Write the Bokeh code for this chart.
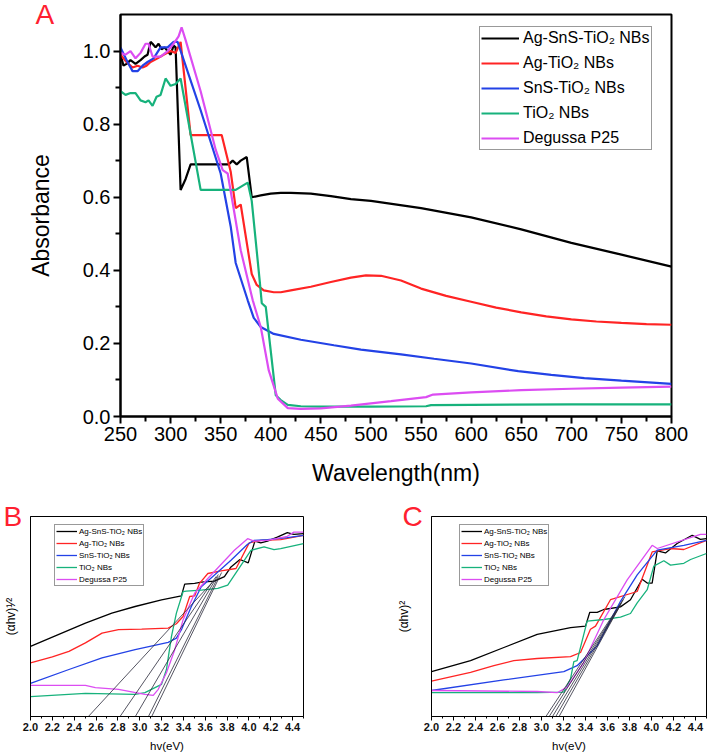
from bokeh.plotting import figure
from bokeh.models import Range1d, FixedTicker, Legend, LegendItem, NumeralTickFormatter
from bokeh.layouts import column, row
from bokeh.embed import file_html
from bokeh.resources import INLINE

FONT = "Liberation Sans"
SERIES = ["Ag-SnS-TiO₂ NBs", "Ag-TiO₂ NBs", "SnS-TiO₂ NBs", "TiO₂ NBs", "Degussa P25"]
COLORS = ["#000000", "#FF2424", "#2342E6", "#17B27C", "#DC4DF2"]
LETTER_COLOR = "#FF2030"
PANEL_LETTERS = ["A", "B", "C"]

# ---------------- Panel A : absorbance vs wavelength ----------------
a_black_x = [250, 253, 256, 260, 265, 270, 274, 277, 280, 282, 285, 288, 291, 294, 297, 300, 303, 305, 310, 315,
             320, 330, 340, 350, 358, 362, 366, 370, 376, 381, 390, 400, 410, 420, 440, 460, 480, 500, 550, 600,
             650, 700, 750, 800]
a_black_y = [0.99, 0.96, 0.965, 0.975, 0.965, 0.975, 0.985, 0.99, 1.025, 1.02, 1.01, 1.02, 1.005, 1.01, 1.0, 0.99,
             1.015, 1.01, 0.62, 0.65, 0.69, 0.69, 0.69, 0.69, 0.69, 0.70, 0.69, 0.70, 0.71, 0.60, 0.605, 0.61,
             0.612, 0.612, 0.61, 0.603, 0.595, 0.59, 0.57, 0.545, 0.512, 0.475, 0.443, 0.41]
a_red_x = [250, 256, 262, 267, 272, 276, 280, 287, 293, 300, 305, 310, 320, 330, 340, 351, 360, 365, 370, 381,
           386, 393, 403, 410, 420, 440, 460, 480, 495, 510, 530, 550, 575, 600, 625, 650, 675, 700, 725, 750,
           775, 800]
a_red_y = [0.99, 0.97, 0.955, 0.96, 0.955, 0.96, 0.97, 0.98, 0.99, 1.0, 0.995, 1.025, 0.77, 0.77, 0.77, 0.77,
           0.67, 0.57, 0.58, 0.39, 0.36, 0.345, 0.34, 0.34, 0.345, 0.355, 0.368, 0.38, 0.386, 0.385, 0.372,
           0.35, 0.33, 0.314, 0.298, 0.285, 0.274, 0.266, 0.26, 0.256, 0.253, 0.251]
a_blue_x = [250, 257, 262, 267, 272, 277, 283, 290, 297, 303, 307, 315, 330, 350, 360, 365, 377, 383, 390, 403,
            430, 463, 490, 530, 563, 600, 647, 680, 713, 750, 800]
a_blue_y = [1.01, 0.97, 0.945, 0.945, 0.96, 0.97, 0.98, 1.01, 1.01, 1.025, 1.025, 0.96, 0.838, 0.665, 0.52, 0.42,
            0.318, 0.27, 0.245, 0.226, 0.21, 0.195, 0.183, 0.17, 0.158, 0.145, 0.124, 0.114, 0.105, 0.098, 0.0895]
a_green_x = [250, 255, 260, 265, 270, 275, 278, 282, 286, 290, 295, 300, 305, 310, 330, 340, 350, 365, 377, 381,
             389, 391, 395, 405, 410, 417, 430, 450, 500, 555, 560, 600, 700, 800]
a_green_y = [0.89, 0.88, 0.885, 0.885, 0.865, 0.86, 0.865, 0.85, 0.875, 0.88, 0.925, 0.905, 0.91, 0.925, 0.62,
             0.62, 0.62, 0.62, 0.64, 0.59, 0.37, 0.31, 0.30, 0.058, 0.045, 0.032, 0.028, 0.027, 0.027, 0.028,
             0.031, 0.032, 0.033, 0.033]
a_mag_x = [250, 255, 260, 265, 270, 275, 278, 282, 290, 297, 303, 308, 311, 315, 330, 345, 352, 357, 370, 382,
           390, 398, 407, 417, 430, 450, 480, 520, 555, 562, 600, 650, 700, 750, 800]
a_mag_y = [0.995, 0.99, 1.0, 0.98, 0.995, 1.02, 1.02, 0.985, 0.985, 1.0, 1.02, 1.04, 1.065, 1.03, 0.89, 0.73,
           0.674, 0.665, 0.455, 0.318, 0.245, 0.126, 0.049, 0.023, 0.021, 0.022, 0.03, 0.042, 0.053, 0.06,
           0.066, 0.072, 0.076, 0.079, 0.082]
a_xticks = [250, 300, 350, 400, 450, 500, 550, 600, 650, 700, 750, 800]
a_xminor = [275, 325, 375, 425, 475, 525, 575, 625, 675, 725, 775]
a_yticks = [0.0, 0.2, 0.4, 0.6, 0.8, 1.0]
a_yminor = [0.1, 0.3, 0.5, 0.7, 0.9]

# ---------------- Panel B : (ahv)^1/2 vs hv ----------------
b_black_x = [2.0, 2.2, 2.503, 2.745, 2.958, 3.2, 3.382, 3.412, 3.503, 3.564, 3.685, 3.776, 3.836, 3.918, 3.994,
             4.055, 4.109, 4.17, 4.26, 4.352, 4.412, 4.5]
b_black_y = [0.351, 0.397, 0.467, 0.517, 0.55, 0.583, 0.603, 0.662, 0.666, 0.672, 0.677, 0.699, 0.748, 0.785,
             0.768, 0.877, 0.868, 0.877, 0.897, 0.919, 0.911, 0.914]
b_red_x = [2.0, 2.2, 2.352, 2.503, 2.655, 2.806, 3.018, 3.261, 3.336, 3.397, 3.458, 3.503, 3.548, 3.624, 3.745,
           3.882, 4.003, 4.109, 4.291, 4.5]
b_red_y = [0.268, 0.298, 0.326, 0.368, 0.417, 0.434, 0.437, 0.442, 0.464, 0.5, 0.6, 0.603, 0.666, 0.715, 0.728,
           0.74, 0.868, 0.881, 0.884, 0.906]
b_blue_x = [2.0, 2.352, 2.655, 2.958, 3.261, 3.336, 3.382, 3.473, 3.564, 3.685, 3.836, 3.988, 4.048, 4.17, 4.352,
            4.5]
b_blue_y = [0.166, 0.235, 0.293, 0.334, 0.371, 0.392, 0.434, 0.55, 0.649, 0.707, 0.781, 0.861, 0.881, 0.884,
            0.894, 0.906]
b_green_x = [2.0, 2.503, 2.958, 3.048, 3.2, 3.245, 3.291, 3.336, 3.397, 3.427, 3.564, 3.715, 3.806, 3.958, 4.018,
             4.139, 4.23, 4.291, 4.5]
b_green_y = [0.099, 0.116, 0.111, 0.119, 0.161, 0.235, 0.401, 0.517, 0.624, 0.627, 0.632, 0.641, 0.657, 0.781,
             0.831, 0.848, 0.834, 0.839, 0.864]
b_mag_x = [2.0, 2.503, 2.594, 2.806, 3.048, 3.124, 3.17, 3.245, 3.321, 3.397, 3.503, 3.624, 3.867, 3.988, 4.048,
           4.17, 4.352, 4.412, 4.5]
b_mag_y = [0.156, 0.156, 0.144, 0.136, 0.111, 0.106, 0.136, 0.219, 0.334, 0.483, 0.616, 0.69, 0.831, 0.889,
           0.877, 0.881, 0.901, 0.922, 0.922]
b_tan_x0 = [2.53, 2.82, 2.96, 3.08, 3.11]
b_tan_y0 = [0.0, 0.0, 0.0, 0.0, 0.0]
b_tan_x1 = [3.68, 3.70, 3.72, 3.72, 3.75]
b_tan_y1 = [0.68, 0.70, 0.71, 0.70, 0.72]

# ---------------- Panel C : (ahv)^2 vs hv ----------------
c_black_x = [2.0, 2.355, 2.658, 2.961, 3.264, 3.4, 3.439, 3.506, 3.567, 3.718, 3.809, 3.915, 3.961, 4.006, 4.052,
             4.127, 4.233, 4.37, 4.445, 4.5]
c_black_y = [0.224, 0.279, 0.345, 0.411, 0.444, 0.452, 0.521, 0.521, 0.535, 0.548, 0.584, 0.686, 0.667, 0.667,
             0.828, 0.818, 0.865, 0.906, 0.886, 0.889]
c_red_x = [2.0, 2.355, 2.567, 2.748, 2.961, 3.264, 3.355, 3.445, 3.491, 3.627, 3.87, 4.006, 4.173, 4.294, 4.5]
c_red_y = [0.177, 0.221, 0.254, 0.279, 0.29, 0.299, 0.32, 0.436, 0.452, 0.584, 0.625, 0.823, 0.84, 0.835, 0.881]
c_blue_x = [2.0, 2.658, 3.203, 3.324, 3.506, 3.718, 3.87, 4.052, 4.294, 4.5]
c_blue_y = [0.13, 0.183, 0.224, 0.254, 0.353, 0.576, 0.708, 0.832, 0.856, 0.881]
c_green_x = [2.0, 2.961, 3.203, 3.264, 3.294, 3.324, 3.415, 3.567, 3.718, 3.809, 3.87, 3.961, 4.021, 4.112, 4.173,
             4.294, 4.355, 4.5]
c_green_y = [0.119, 0.119, 0.122, 0.188, 0.274, 0.279, 0.477, 0.485, 0.497, 0.515, 0.568, 0.634, 0.752, 0.779,
             0.757, 0.766, 0.785, 0.815]
c_mag_x = [2.0, 2.961, 3.142, 3.233, 3.385, 3.567, 3.779, 4.006, 4.052, 4.445, 4.5]
c_mag_y = [0.13, 0.125, 0.119, 0.147, 0.271, 0.485, 0.683, 0.856, 0.84, 0.911, 0.911]
c_tan_x0 = [3.04, 3.07, 3.10, 3.13, 3.16]
c_tan_y0 = [0.0, 0.0, 0.0, 0.0, 0.0]
c_tan_x1 = [3.76, 3.745, 3.73, 3.72, 3.71]
c_tan_y1 = [0.60, 0.585, 0.57, 0.56, 0.55]

bc_xticks = [2.0, 2.2, 2.4, 2.6, 2.8, 3.0, 3.2, 3.4, 3.6, 3.8, 4.0, 4.2, 4.4]
bc_xminor = [2.1, 2.3, 2.5, 2.7, 2.9, 3.1, 3.3, 3.5, 3.7, 3.9, 4.1, 4.3, 4.5]


def base_fig(w, h, xr, yr, bl, br, bt, bb, letter, letter_offset):
    p = figure(width=w, height=h, x_range=Range1d(*xr), y_range=Range1d(*yr),
               output_backend="svg", toolbar_location=None, title=letter,
               min_border_left=bl, min_border_right=br, min_border_top=bt, min_border_bottom=bb)
    p.xgrid.visible = False
    p.ygrid.visible = False
    p.outline_line_color = "black"
    p.background_fill_color = "white"
    p.border_fill_color = "white"
    # panel letter: title pulled down beside the frame's top-left corner
    t = p.title
    t.text_font = FONT
    t.text_font_size = "28px"
    t.text_font_style = "normal"
    t.text_color = LETTER_COLOR
    t.align = "left"
    t.vertical_align = "bottom"
    t.offset = letter_offset
    t.standoff = -30
    return p


def add_legend(p, renderers, loc, font_size, glyph_w, glyph_h, spacing, standoff):
    items = [LegendItem(label=s, renderers=[r]) for s, r in zip(SERIES, renderers)]
    lg = Legend(items=items, location=loc, margin=0, padding=1,
                spacing=spacing, glyph_width=glyph_w, glyph_height=glyph_h, label_height=glyph_h,
                label_standoff=standoff, label_text_font=FONT, label_text_font_size=font_size,
                label_text_color="black", border_line_color="#333333", border_line_width=1,
                background_fill_color="white", background_fill_alpha=1.0)
    p.add_layout(lg)


# ---- Panel A ----
pa = base_fig(709, 500, (250, 800), (0, 1.1), 120, 38, 14, 84, PANEL_LETTERS[0], -85)
pa.outline_line_width = 2
ra = []
for xs, ys, c in zip([a_black_x, a_red_x, a_blue_x, a_green_x, a_mag_x],
                     [a_black_y, a_red_y, a_blue_y, a_green_y, a_mag_y], COLORS):
    ra.append(pa.line(xs, ys, line_color=c, line_width=2.2))
add_legend(pa, ra, (359, 266), "16px", 38, 20, 5, 4)

for ax in (pa.xaxis[0], pa.yaxis[0]):
    ax.axis_line_width = 2
    ax.major_tick_line_width = 2
    ax.minor_tick_line_width = 2
    ax.major_tick_in = 0
    ax.major_tick_out = 7
    ax.minor_tick_in = 0
    ax.minor_tick_out = 5
    ax.major_label_text_font = FONT
    ax.major_label_text_font_size = "20px"
    ax.major_label_text_color = "black"
    ax.axis_label_text_font = FONT
    ax.axis_label_text_font_size = "23px"
    ax.axis_label_text_font_style = "normal"
    ax.axis_label_text_color = "black"
pa.xaxis.ticker = FixedTicker(ticks=a_xticks, minor_ticks=a_xminor)
pa.yaxis.ticker = FixedTicker(ticks=a_yticks, minor_ticks=a_yminor)
pa.yaxis.formatter = NumeralTickFormatter(format="0.0")
pa.xaxis.major_label_standoff = 3
pa.yaxis.major_label_standoff = 3
pa.xaxis.axis_label = "Wavelength(nm)"
pa.yaxis.axis_label = "Absorbance"
pa.xaxis.axis_label_standoff = 16
pa.yaxis.axis_label_standoff = 26


def tauc_panel(w, bl, br, data, tan, ylabel, ylabel_standoff, letter, letter_offset):
    p = base_fig(w, 254, (2.0, 4.5), (0, 1.0), bl, br, 16, 37, letter, letter_offset)
    p.outline_line_width = 1
    rs = []
    for (xs, ys), c in zip(data, COLORS):
        rs.append(p.line(xs, ys, line_color=c, line_width=1.3))
    p.segment(x0=tan[0], y0=tan[1], x1=tan[2], y1=tan[3], line_color="#2a2a3a", line_width=0.8)
    ax = p.xaxis[0]
    ax.ticker = FixedTicker(ticks=bc_xticks, minor_ticks=bc_xminor)
    ax.formatter = NumeralTickFormatter(format="0.0")
    ax.axis_line_width = 1
    ax.major_tick_in = 0
    ax.major_tick_out = 4
    ax.minor_tick_in = 0
    ax.minor_tick_out = 2
    ax.major_label_standoff = 2
    ax.major_label_text_font = FONT
    ax.major_label_text_font_size = "11px"
    ax.major_label_text_font_style = "bold"
    ax.major_label_text_color = "#111111"
    ax.axis_label = "hv(eV)"
    ax.axis_label_text_font = FONT
    ax.axis_label_text_font_size = "11.5px"
    ax.axis_label_text_font_style = "normal"
    ax.axis_label_text_color = "black"
    ax.axis_label_standoff = 6
    ay = p.yaxis[0]
    ay.ticker = FixedTicker(ticks=[])
    ay.major_tick_out = 0
    ay.major_tick_in = 0
    ay.minor_tick_out = 0
    ay.minor_tick_in = 0
    ay.axis_line_width = 1
    ay.axis_label = ylabel
    ay.axis_label_text_font = FONT
    ay.axis_label_text_font_size = "12px"
    ay.axis_label_text_font_style = "normal"
    ay.axis_label_text_color = "black"
    ay.axis_label_standoff = ylabel_standoff
    return p, rs


pb, rb = tauc_panel(390, 28, 87,
                    [(b_black_x, b_black_y), (b_red_x, b_red_y), (b_blue_x, b_blue_y),
                     (b_green_x, b_green_y), (b_mag_x, b_mag_y)],
                    (b_tan_x0, b_tan_y0, b_tan_x1, b_tan_y1), "(αhv)¹⁄²", 13, PANEL_LETTERS[1], -27)
add_legend(pb, rb, (24, 130), "8px", 21, 10, 2, 2)

pc, rc = tauc_panel(319, 41, 3,
                    [(c_black_x, c_black_y), (c_red_x, c_red_y), (c_blue_x, c_blue_y),
                     (c_green_x, c_green_y), (c_mag_x, c_mag_y)],
                    (c_tan_x0, c_tan_y0, c_tan_x1, c_tan_y1), "(αhv)²", 21, PANEL_LETTERS[2], -29)
add_legend(pc, rc, (28, 130), "8px", 21, 10, 2, 2)

layout = column(pa, row(pb, pc))
open("out.html", "w").write(file_html(layout, INLINE))
